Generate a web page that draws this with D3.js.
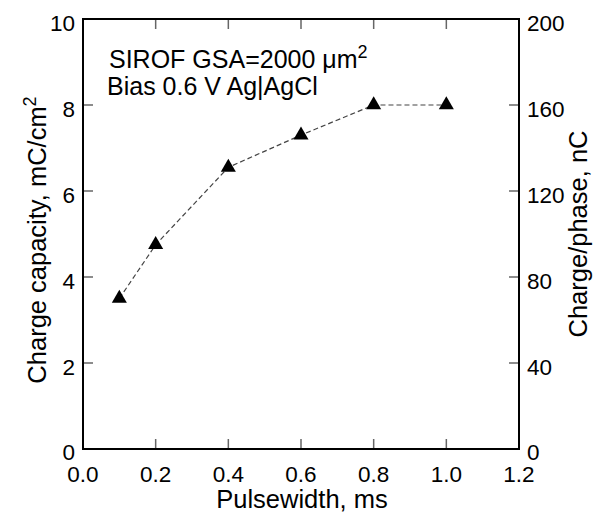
<!DOCTYPE html>
<html><head><meta charset="utf-8">
<script src="https://cdn.jsdelivr.net/npm/d3@7"></script>
<style>body{margin:0;background:#fff}text{font-family:"Liberation Sans",Arial,sans-serif;fill:#000}</style>
</head><body><svg id="c" width="594" height="514"></svg>
<script>
const pulsewidth = [0.1, 0.2, 0.4, 0.6, 0.8, 1.0];
const chargeCapacity = [3.5, 4.75, 6.55, 7.3, 8.0, 8.0];
const xTicks = [0.0, 0.2, 0.4, 0.6, 0.8, 1.0, 1.2];
const yTicks = [0, 2, 4, 6, 8, 10];
const y2Ticks = [0, 40, 80, 120, 160, 200];

const svg = d3.select("#c");
const L = 83, R = 519, T = 19, B = 449;
const x = d3.scaleLinear().domain([0, 1.2]).range([L, R]);
const y = d3.scaleLinear().domain([0, 10]).range([B, T]);
const y2 = d3.scaleLinear().domain([0, 200]).range([B, T]);

const tickCol = "#666";
const g = svg.append("g");
xTicks.slice(1, -1).forEach(t => {
  g.append("line").attr("x1", x(t)).attr("x2", x(t)).attr("y1", B).attr("y2", B - 10).attr("stroke", tickCol).attr("stroke-width", 1.5);
  g.append("line").attr("x1", x(t)).attr("x2", x(t)).attr("y1", T).attr("y2", T + 10).attr("stroke", tickCol).attr("stroke-width", 1.5);
});
yTicks.slice(1, -1).forEach(t => {
  g.append("line").attr("x1", L).attr("x2", L + 10).attr("y1", y(t)).attr("y2", y(t)).attr("stroke", tickCol).attr("stroke-width", 1.5);
});
y2Ticks.slice(1, -1).forEach(t => {
  g.append("line").attr("x1", R).attr("x2", R - 10).attr("y1", y2(t)).attr("y2", y2(t)).attr("stroke", tickCol).attr("stroke-width", 1.5);
});
g.append("rect").attr("x", L).attr("y", T).attr("width", R - L).attr("height", B - T)
  .attr("fill", "none").attr("stroke", "#000").attr("stroke-width", 2);

const fs = 22.5;
xTicks.forEach(t => {
  svg.append("text").attr("x", x(t)).attr("y", 482).attr("text-anchor", "middle").attr("font-size", fs).text(t.toFixed(1));
});
yTicks.forEach(t => {
  svg.append("text").attr("x", 75).attr("y", y(t) + (t === 0 ? 10.5 : 12)).attr("text-anchor", "end").attr("font-size", fs).text(t);
});
y2Ticks.forEach(t => {
  svg.append("text").attr("x", 527).attr("y", y2(t) + (t === 0 ? 10.5 : 12)).attr("text-anchor", "start").attr("font-size", fs).text(t);
});

const lf = 25.5;
svg.append("text").attr("x", 302).attr("y", 508).attr("text-anchor", "middle").attr("font-size", lf).text("Pulsewidth, ms");
const yl = svg.append("text").attr("transform", "translate(46,240) rotate(-90)").attr("text-anchor", "middle").attr("font-size", lf);
yl.append("tspan").text("Charge capacity, mC/cm");
yl.append("tspan").attr("dy", -10).attr("font-size", 18).text("2");
svg.append("text").attr("transform", "translate(587,234) rotate(-90)").attr("text-anchor", "middle").attr("font-size", lf).text("Charge/phase, nC");

const af = 25;
const a1 = svg.append("text").attr("x", 109).attr("y", 68).attr("font-size", af);
a1.append("tspan").text("SIROF GSA=2000 \u03bcm");
a1.append("tspan").attr("dy", -10).attr("font-size", 18).text("2");
svg.append("text").attr("x", 107).attr("y", 95).attr("font-size", af).text("Bias 0.6 V Ag|AgCl");

const line = d3.line().x((d, i) => x(pulsewidth[i])).y(d => y(d));
svg.append("path").datum(chargeCapacity).attr("d", line).attr("fill", "none")
  .attr("stroke", "#444").attr("stroke-width", 1.2).attr("stroke-dasharray", "5,3");

const sym = d3.symbol().type(d3.symbolTriangle).size(98);
svg.selectAll(".m").data(chargeCapacity).enter().append("path")
  .attr("transform", (d, i) => `translate(${x(pulsewidth[i])},${y(d)})`)
  .attr("d", sym).attr("fill", "#000");
</script></body></html>
